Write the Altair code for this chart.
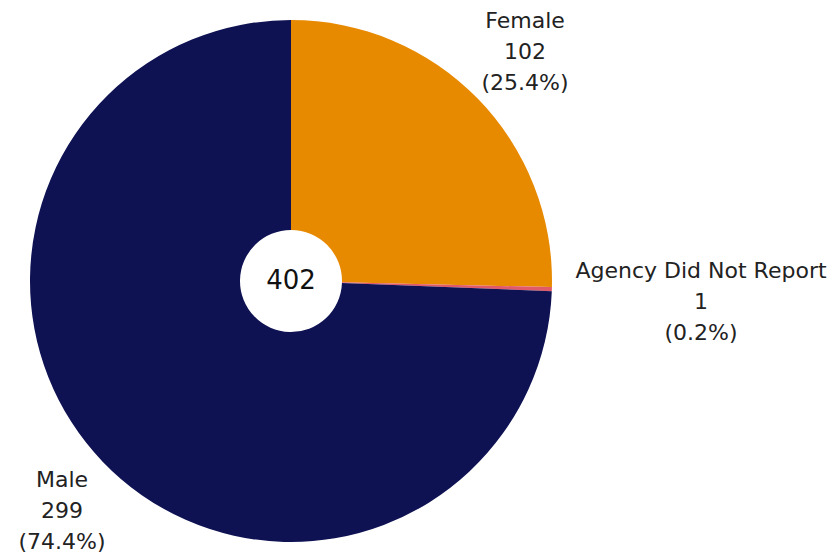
import altair as alt
import pandas as pd

categories = ["Female", "Agency Did Not Report", "Male"]
counts = [102, 1, 299]
percents = ["25.4%", "0.2%", "74.4%"]
colors = ["#E88A00", "#E05A6A", "#0E1152"]
total = 402

df = pd.DataFrame({
    "category": categories,
    "count": counts,
    "order": [0, 1, 2],
})

CX, CY = 283, 273

pie = alt.Chart(df).mark_arc(radius=261, innerRadius=51, stroke=None).encode(
    theta=alt.Theta("count:Q", stack=True),
    order=alt.Order("order:Q"),
    color=alt.Color("category:N", scale=alt.Scale(domain=categories, range=colors), legend=None),
    x=alt.value(CX),
    y=alt.value(CY),
)

center = alt.Chart(pd.DataFrame({"t": [str(total)]})).mark_text(
    fontSize=26, font="DejaVu Sans", color="#111111", baseline="middle", align="center"
).encode(text="t:N", x=alt.value(CX), y=alt.value(CY))

label_pos = {"Female": (517, 13), "Agency Did Not Report": (693, 263), "Male": (54, 472)}

layers = [pie, center]
for cat, c, p in zip(categories, counts, percents):
    lx, ly = label_pos[cat]
    t = alt.Chart(pd.DataFrame({"t": [f"{cat}\n{c}\n({p})"]})).mark_text(
        fontSize=22, font="DejaVu Sans", color="#222222", lineBreak="\n",
        lineHeight=31, align="center", baseline="middle"
    ).encode(text="t:N", x=alt.value(lx), y=alt.value(ly))
    layers.append(t)

chart = alt.layer(*layers).properties(
    width=819, height=548, autosize=alt.AutoSizeParams(type="none"), padding=0
).configure_view(stroke=None)

chart.save("out.html", embed_options={"renderer": "svg", "actions": False})
